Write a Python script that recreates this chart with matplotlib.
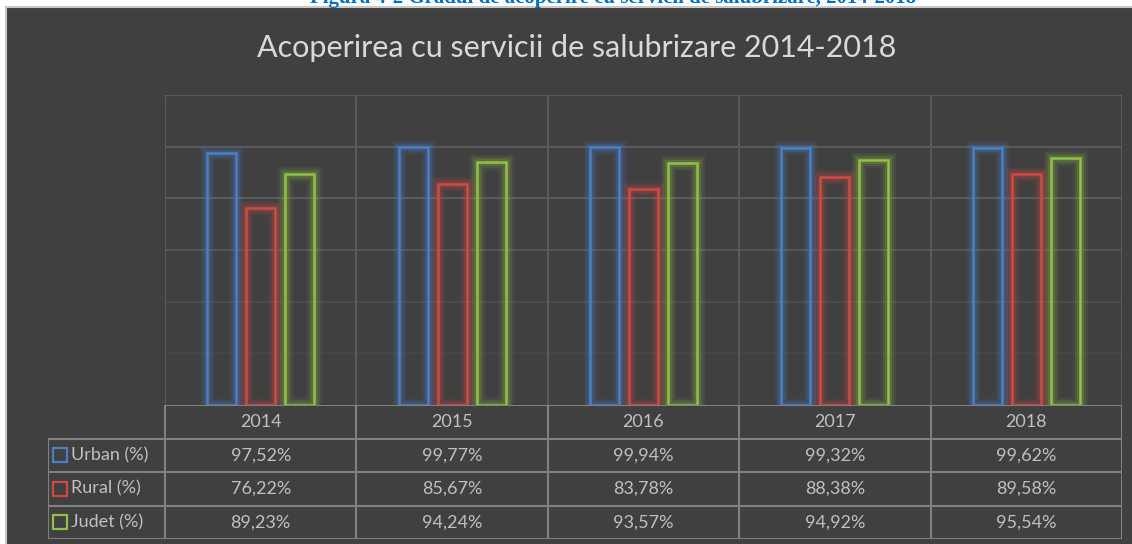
import matplotlib
matplotlib.use('Agg')
import matplotlib.pyplot as plt
from matplotlib.patches import Rectangle

# date
ani = ['2014', '2015', '2016', '2017', '2018']
serii = ['Urban (%)', 'Rural (%)', 'Judet (%)']
urban = [97.52, 99.77, 99.94, 99.32, 99.62]
rural = [76.22, 85.67, 83.78, 88.38, 89.58]
judet = [89.23, 94.24, 93.57, 94.92, 95.54]
culori = ['#4A7FC8', '#D04A45', '#93C047']

titlu = 'Acoperirea cu servicii de salubrizare 2014-2018'
legenda_fig = 'Figura 4-2 Gradul de acoperire cu servicii de salubrizare, 2014-2018'

W, H = 1132, 544
fig = plt.figure(figsize=(W / 100, H / 100), dpi=100)
fig.patch.set_facecolor('white')

fond = '#404040'
grila = '#5A5A5A'
bordura = '#808080'
text_col = '#C0C0C0'
font = 'Lato'

# panoul inchis al graficului (axa de fundal)
bg = fig.add_axes([0, 0, 1, 1], zorder=-10)
bg.set_xlim(0, W)
bg.set_ylim(H, 0)
bg.axis('off')
bg.add_patch(Rectangle((6, 7), W, H, facecolor=fond, edgecolor='#C8C8C8',
                       linewidth=1.5))

# legenda figurii, taiata sus (ca in original)
fig.text(613 / W, 1 - 3 / H, legenda_fig, ha='center', va='baseline',
         fontsize=15, fontweight='bold', family='Liberation Serif', color='#0070C0')

fig.text(577 / W, 1 - 48 / H, titlu, ha='center', va='center',
         fontsize=22, family=font, color='#D9D9D9')

# axa cu barele
x0, x1 = 165 / W, 1122 / W
ax = fig.add_axes([x0, 1 - 405 / H, x1 - x0, (405 - 95) / H])
ax.set_facecolor('none')
ax.set_xlim(-0.5, len(ani) - 0.5)
ax.set_ylim(0, 120)
for s in ax.spines.values():
    s.set_visible(False)
ax.set_xticks([])
ax.set_yticks([])

# grila orizontala, mai stearsa spre baza
for yv, a in zip([20, 40, 60, 80, 100, 120], [0.2, 0.45, 0.8, 1, 1, 1]):
    ax.axhline(yv, color=grila, lw=1.5, alpha=a, zorder=1)
for xv in range(len(ani) + 1):
    ax.axvline(xv - 0.5, color=grila, lw=1.5, zorder=1)

latime = 0.152
pas = 0.204
for i, (vals, c) in enumerate(zip([urban, rural, judet], culori)):
    pos = [k + (i - 1) * pas for k in range(len(ani))]
    # efect de stralucire
    for lw, a in [(11, 0.08), (8, 0.12), (5, 0.2)]:
        ax.bar(pos, vals, width=latime, facecolor='none', edgecolor=c,
               linewidth=lw, alpha=a, zorder=2)
    ax.bar(pos, vals, width=latime, facecolor='none', edgecolor=c,
           linewidth=1.8, zorder=3)

# tabelul de date
t0 = 48 / W
tab = fig.add_axes([t0, 1 - 539 / H, x1 - t0, (539 - 405) / H])
tab.set_facecolor('none')
xs = -0.5 - (165 - 48) / ((1122 - 165) / len(ani))
tab.set_xlim(xs, len(ani) - 0.5)
tab.set_ylim(0, 4)
tab.axis('off')

kw = dict(color=bordura, lw=1.5, solid_capstyle='projecting')
tab.plot([-0.5, len(ani) - 0.5], [4, 4], **kw)
for yv in [3, 2, 1, 0]:
    tab.plot([xs, len(ani) - 0.5], [yv, yv], **kw)
tab.plot([xs, xs], [0, 3], **kw)
for k in range(len(ani) + 1):
    tab.plot([k - 0.5, k - 0.5], [0, 4], **kw)

for k, an in enumerate(ani):
    tab.text(k, 3.5, an, ha='center', va='center', fontsize=13,
             family=font, color=text_col)

unit = (1122 - 165) / len(ani)
for r, (nume, vals, c) in enumerate(zip(serii, [urban, rural, judet], culori)):
    yc = 2.5 - r
    tab.plot([xs + 12 / unit], [yc], marker='s', markersize=9.5,
             markerfacecolor='none', markeredgecolor=c, markeredgewidth=1.6)
    tab.text(xs + 23 / unit, yc, nume, ha='left', va='center', fontsize=13,
             family=font, color=text_col)
    for k, v in enumerate(vals):
        tab.text(k, yc, f'{v:.2f}'.replace('.', ',') + '%', ha='center',
                 va='center', fontsize=13, family=font, color=text_col)

fig.savefig('out.png', dpi=100, facecolor=fig.get_facecolor())
